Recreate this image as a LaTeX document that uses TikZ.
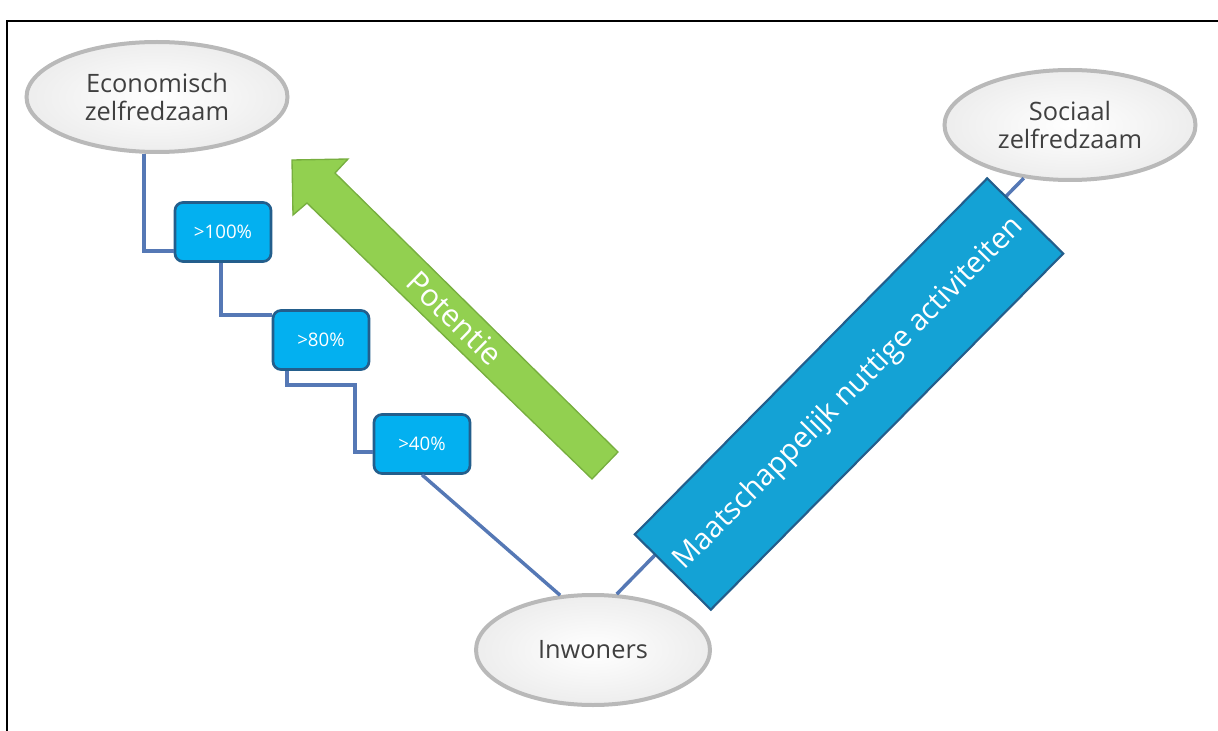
\documentclass[tikz,border=0pt]{standalone}
\usepackage{fontspec}
\setmainfont{Open Sans}
\usetikzlibrary{shapes.geometric,calc}
\definecolor{linkblue}{HTML}{5578B5}
\definecolor{pctfill}{HTML}{03B0F0}
\definecolor{pctdraw}{HTML}{235E8C}
\definecolor{barfill}{HTML}{14A2D5}
\definecolor{greenfill}{HTML}{92D050}
\definecolor{greendraw}{HTML}{77AE3F}
\definecolor{inktext}{HTML}{404040}
\def\pxl{0.75pt}
\begin{document}
\begin{tikzpicture}[x=0.75pt,y=-0.75pt,
    bubble/.style={ellipse,draw=gray!55,line width=3pt,inner color=white,outer color=gray!14,
      text=inktext,align=center,font=\fontsize{19}{21}\selectfont,minimum height=110*\pxl},
    pct/.style={rectangle,rounded corners=6pt,draw=pctdraw,line width=2pt,fill=pctfill,
      text=white,minimum width=96*\pxl,minimum height=59*\pxl,font=\fontsize{14}{16}\selectfont},
    link/.style={draw=linkblue,line width=2.6pt}]
  \useasboundingbox (0,0) rectangle (1218,731);
  \draw[line width=1.6pt] (7,731) -- (7,21) -- (1220,21);
  \node[bubble,minimum width=261*\pxl] (econ) at (157,97) {Economisch\\zelfredzaam};
  \node[bubble,minimum width=251*\pxl] (sociaal) at (1070,125) {Sociaal\\zelfredzaam};
  \node[bubble,minimum width=234*\pxl] (inwoners) at (593,650) {Inwoners};
  \node[pct] (p100) at (223,232) {>100\%};
  \node[pct] (p80) at (321,340) {>80\%};
  \node[pct] (p40) at (422,444) {>40\%};
  \draw[link] ($(econ.south)+(-13,0)$) |- ($(p100.west)+(0,19)$);
  \draw[link] ($(p100.south)+(-2,0)$) |- ($(p80.west)+(0,-25)$);
  \draw[link] ($(p80.south)+(-34,0)$) -- ++(0,14) -- ++(68,0) |- ($(p40.west)+(0,8)$);
  \draw[link] (p40.south) -- (inwoners.121);
  \draw[link] (inwoners.67) -- (sociaal.229);
  \draw[fill=greenfill,draw=greendraw,line width=1pt,line join=miter]
    (618,452) -- (335,173) -- (348,159) -- (292,160) -- (293,215) -- (307,203) -- (592,479) -- cycle;
  \node[rotate=-44.3,text=white,font=\fontsize{23}{25}\selectfont] (potentie) at (455,318) {Potentie};
  \node[rectangle,rotate=45.3,fill=barfill,draw=pctdraw,line width=1.6pt,text=white,
    minimum width=501*\pxl,minimum height=107*\pxl,font=\fontsize{22}{24}\selectfont]
    (mna) at (849,394) {Maatschappelijk nuttige activiteiten};
\end{tikzpicture}
\end{document}
